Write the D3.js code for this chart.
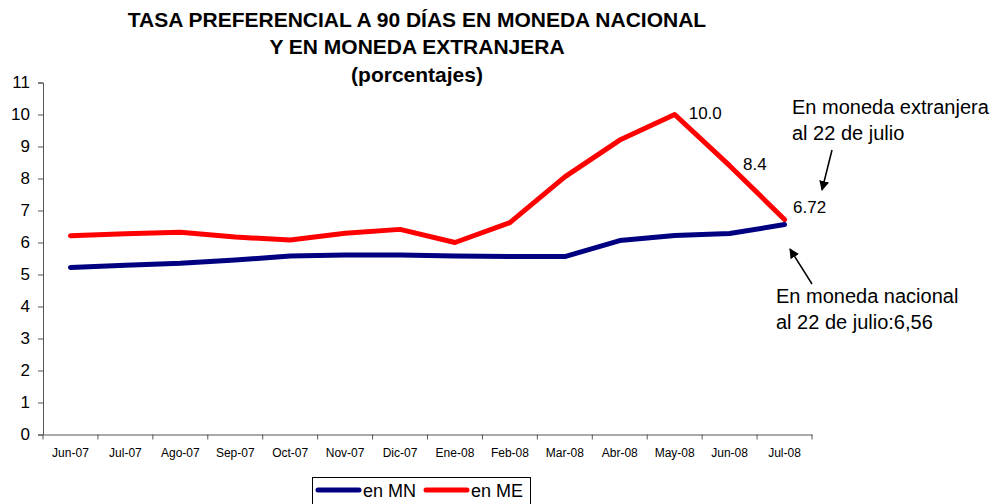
<!DOCTYPE html>
<html>
<head>
<meta charset="utf-8">
<script src="https://cdn.jsdelivr.net/npm/d3@7"></script>
<style>
  body { margin: 0; background: #fff; }
  svg { font-family: Arial, "Liberation Sans", sans-serif; }
</style>
</head>
<body>
<div id="chart"></div>
<script>
// datos
var months = ["Jun-07","Jul-07","Ago-07","Sep-07","Oct-07","Nov-07","Dic-07",
              "Ene-08","Feb-08","Mar-08","Abr-08","May-08","Jun-08","Jul-08"];
var tasaMN = [5.22, 5.29, 5.35, 5.45, 5.58, 5.61, 5.61, 5.58, 5.56, 5.56, 6.06, 6.22, 6.28, 6.56];
var tasaME = [6.21, 6.27, 6.32, 6.17, 6.08, 6.29, 6.41, 6.0, 6.62, 8.05, 9.2, 10.0, 8.4, 6.72];
var yTicks = d3.range(0, 12);
var titleLines = ["TASA PREFERENCIAL A 90 DÍAS EN MONEDA NACIONAL", "Y EN MONEDA EXTRANJERA", "(porcentajes)"];

var width = 995, height = 504;
var margin = { left: 43, right: 183, top: 82.5, bottom: 69.5 };

var svg = d3.select("#chart").append("svg")
    .attr("width", width)
    .attr("height", height);

var x = d3.scaleBand().domain(months).range([margin.left, width - margin.right]);
var y = d3.scaleLinear().domain([0, 11]).range([height - margin.bottom, margin.top]);

// titulo
svg.append("g").selectAll("text")
  .data(titleLines)
  .enter().append("text")
    .attr("x", 417)
    .attr("y", function(d, i) { return 26.5 + i * 27.5; })
    .attr("text-anchor", "middle")
    .style("font-size", "21px")
    .style("font-weight", "bold")
    .text(function(d) { return d; });

// ejes
var yAxis = svg.append("g")
    .attr("transform", "translate(" + margin.left + ",0)")
    .call(d3.axisLeft(y).tickValues(yTicks).tickSize(5).tickPadding(8));
yAxis.selectAll("text").style("font-size", "17px").attr("fill", "#000");

var xAxis = svg.append("g")
    .attr("transform", "translate(0," + y(0) + ")")
    .call(d3.axisBottom(x).tickSize(0).tickPadding(14));
xAxis.selectAll("text").style("font-size", "12px").attr("fill", "#000");
xAxis.selectAll(".tick line").remove();
// marcas entre categorias
xAxis.selectAll(".sep")
  .data(d3.range(months.length + 1))
  .enter().append("line")
    .attr("x1", function(i) { return margin.left + i * x.step(); })
    .attr("x2", function(i) { return margin.left + i * x.step(); })
    .attr("y1", 0).attr("y2", 5)
    .attr("stroke", "#555");
svg.selectAll(".domain").attr("stroke", "#555");
svg.selectAll(".tick line").attr("stroke", "#555");

var line = d3.line()
    .x(function(d, i) { return x(months[i]) + x.bandwidth() / 2; })
    .y(function(d) { return y(d); });

svg.append("path")
    .datum(tasaMN)
    .attr("d", line)
    .attr("fill", "none")
    .attr("stroke", "#000080")
    .attr("stroke-width", 5)
    .attr("stroke-linejoin", "round")
    .attr("stroke-linecap", "round");

svg.append("path")
    .datum(tasaME)
    .attr("d", line)
    .attr("fill", "none")
    .attr("stroke", "#ff0000")
    .attr("stroke-width", 5)
    .attr("stroke-linejoin", "round")
    .attr("stroke-linecap", "round");

// etiquetas de datos
var labelIdx = [11, 12, 13];
var labelTxt = ["10.0", "8.4", "6.72"];
var labelOff = [[14, 4.5], [13.5, 4.5], [8.5, -6.5]];
svg.selectAll(".lbl")
  .data(labelIdx)
  .enter().append("text")
    .attr("x", function(d, i) { return x(months[d]) + x.bandwidth() / 2 + labelOff[i][0]; })
    .attr("y", function(d, i) { return y(tasaME[d]) + labelOff[i][1]; })
    .style("font-size", "17px")
    .text(function(d, i) { return labelTxt[i]; });

// anotaciones
var defs = svg.append("defs");
defs.append("marker")
    .attr("id", "arrow")
    .attr("viewBox", "0 0 10 10")
    .attr("refX", 9).attr("refY", 5)
    .attr("markerWidth", 10).attr("markerHeight", 10)
    .attr("markerUnits", "userSpaceOnUse")
    .attr("orient", "auto")
  .append("path")
    .attr("d", "M0,0 L10,5 L0,10 z")
    .attr("fill", "#000");

function note(lines, tx, ty, ax1, ay1, ax2, ay2) {
  svg.append("g").selectAll("text")
    .data(lines)
    .enter().append("text")
      .attr("x", tx)
      .attr("y", function(d, i) { return ty + i * 26; })
      .style("font-size", "20px")
      .text(function(d) { return d; });
  svg.append("line")
      .attr("x1", ax1).attr("y1", ay1)
      .attr("x2", ax2).attr("y2", ay2)
      .attr("stroke", "#000")
      .attr("stroke-width", 1.5)
      .attr("marker-end", "url(#arrow)");
}
note(["En moneda extranjera", "al 22 de julio"], 792, 114, 832, 150, 822, 190);
note(["En moneda nacional", "al 22 de julio:6,56"], 776, 303, 812, 284, 790, 249);

// leyenda
var legend = svg.append("g");
legend.append("rect")
    .attr("x", 312.5).attr("y", 477.5)
    .attr("width", 218).attr("height", 30)
    .attr("fill", "#fff")
    .attr("stroke", "#000");
var legendItems = [{ name: "en MN", color: "#000080", x: 316 }, { name: "en ME", color: "#ff0000", x: 424 }];
legendItems.forEach(function(d) {
  legend.append("line")
      .attr("x1", d.x + 2).attr("x2", d.x + 43)
      .attr("y1", 490).attr("y2", 490)
      .attr("stroke", d.color)
      .attr("stroke-width", 5)
      .attr("stroke-linecap", "round");
  legend.append("text")
      .attr("x", d.x + 47).attr("y", 497)
      .style("font-size", "18px")
      .text(d.name);
});
</script>
</body>
</html>
